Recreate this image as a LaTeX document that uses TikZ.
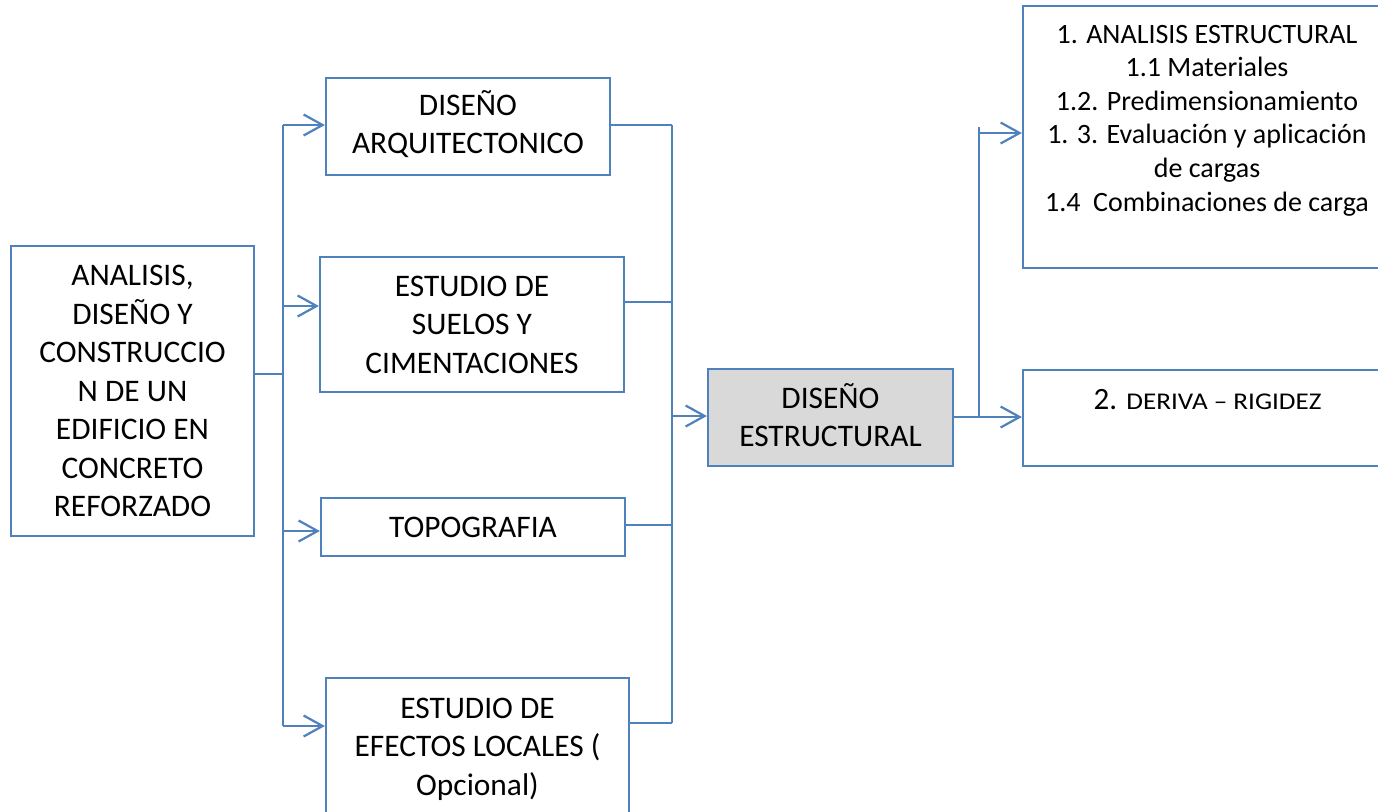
\documentclass[tikz,border=0pt]{standalone}
\usepackage{fontspec}
\setmainfont{Carlito}
\usetikzlibrary{arrows.meta}
\definecolor{lineblue}{HTML}{4F81BD}
\definecolor{boxgray}{HTML}{D9D9D9}
\begin{document}
\begin{tikzpicture}[x=0.5pt,y=-0.5pt,
  box/.style={draw=lineblue, line width=1.1pt, rectangle, inner sep=0pt, align=center,
    font=\fontsize{15.7pt}{19.25pt}\selectfont},
  plainbox/.style={draw=lineblue, line width=1.1pt, rectangle, inner sep=0pt},
  conn/.style={draw=lineblue, line width=1.1pt},
  arr/.style={conn, -{Straight Barb[length=9.5pt,width=10.5pt,line width=1.1pt]}},
  rtext/.style={inner sep=0pt, align=center, font=\fontsize{14pt}{16.8pt}\selectfont},
]
\useasboundingbox (0,0) rectangle (1378,811);
\clip (0,0) rectangle (1378,811);

% boxes
\node[box, minimum width=121.5pt, minimum height=145pt] (main) at (132.5,391)
  {ANALISIS,\\ DISE\smash{Ñ}O Y\\ CONSTRUCCIO\\ N DE UN\\ EDIFICIO EN\\ CONCRETO\\ REFORZADO};
\node[box, minimum width=142pt, minimum height=48.5pt] (arq) at (468,126.5)
  {DISE\smash{Ñ}O\\ ARQUITECTONICO};
\node[box, minimum width=152pt, minimum height=67.5pt] (suelos) at (472,324.5)
  {ESTUDIO DE\\ SUELOS Y\\ CIMENTACIONES};
\node[box, minimum width=152pt, minimum height=29pt] (topo) at (473,527)
  {TOPOGRAFIA};
\node[box, minimum width=151.5pt, minimum height=71pt] (efectos) at (477.5,749)
  {ESTUDIO DE\\ EFECTOS LOCALES (\\ Opcional)};
\node[box, fill=boxgray, minimum width=122.5pt, minimum height=48.5pt] (estr) at (830.5,417.5)
  {DISE\smash{Ñ}O\\ ESTRUCTURAL};
\node[plainbox, minimum width=184pt, minimum height=131pt] (box1) at (1207,137) {};
\node[plainbox, minimum width=184pt, minimum height=48pt] (box2) at (1207,418) {};
\node[rtext, anchor=north] (t1) at (1207,24.5)
  {1. ANALISIS ESTRUCTURAL\\ 1.1 Materiales\\ 1.2. Predimensionamiento\\
   1. 3. Evaluación y aplicación\\ de cargas\\ 1.4\ \ Combinaciones de carga};
\node[inner sep=0pt, anchor=base] (t2) at (1207.5,409)
  {\fontsize{15.5pt}{18pt}\selectfont 2. \scalebox{1.13}[1]{\fontsize{12pt}{14pt}\selectfont DERIVA – RIGIDEZ}};

% left trunk
\coordinate (jL) at (283,374);
\coordinate (tL1) at (283,125);
\coordinate (tL2) at (283,306);
\coordinate (tL3) at (283,531);
\coordinate (tL4) at (283,726);
\draw[conn] (main.east |- jL) -- (jL);
\draw[conn] (tL1) -- (tL4);
\draw[arr] (tL1) -- (arq.west |- tL1);
\draw[arr] (tL2) -- (suelos.west |- tL2);
\draw[arr] (tL3) -- (topo.west |- tL3);
\draw[arr] (tL4) -- (efectos.west |- tL4);

% right trunk
\coordinate (tR1) at (672,125);
\coordinate (tR2) at (672,302);
\coordinate (tR3) at (672,525);
\coordinate (tR4) at (672,723);
\coordinate (tRm) at (672,416);
\draw[conn] (tR1) -- (tR4);
\draw[conn] (arq.east |- tR1) -- (tR1);
\draw[conn] (suelos.east |- tR2) -- (tR2);
\draw[conn] (topo.east |- tR3) -- (tR3);
\draw[conn] (efectos.east |- tR4) -- (tR4);
\draw[arr] (tRm) -- (estr.west |- tRm);

% output branch
\coordinate (jR) at (979,417);
\coordinate (jRtop) at (979,127);
\coordinate (jR1) at (980,133);
\draw[arr] (estr.east |- jR) -- (box2.west |- jR);
\draw[conn] (jR) -- (jRtop);
\draw[arr] (jR1) -- (box1.west |- jR1);
\end{tikzpicture}
\end{document}
